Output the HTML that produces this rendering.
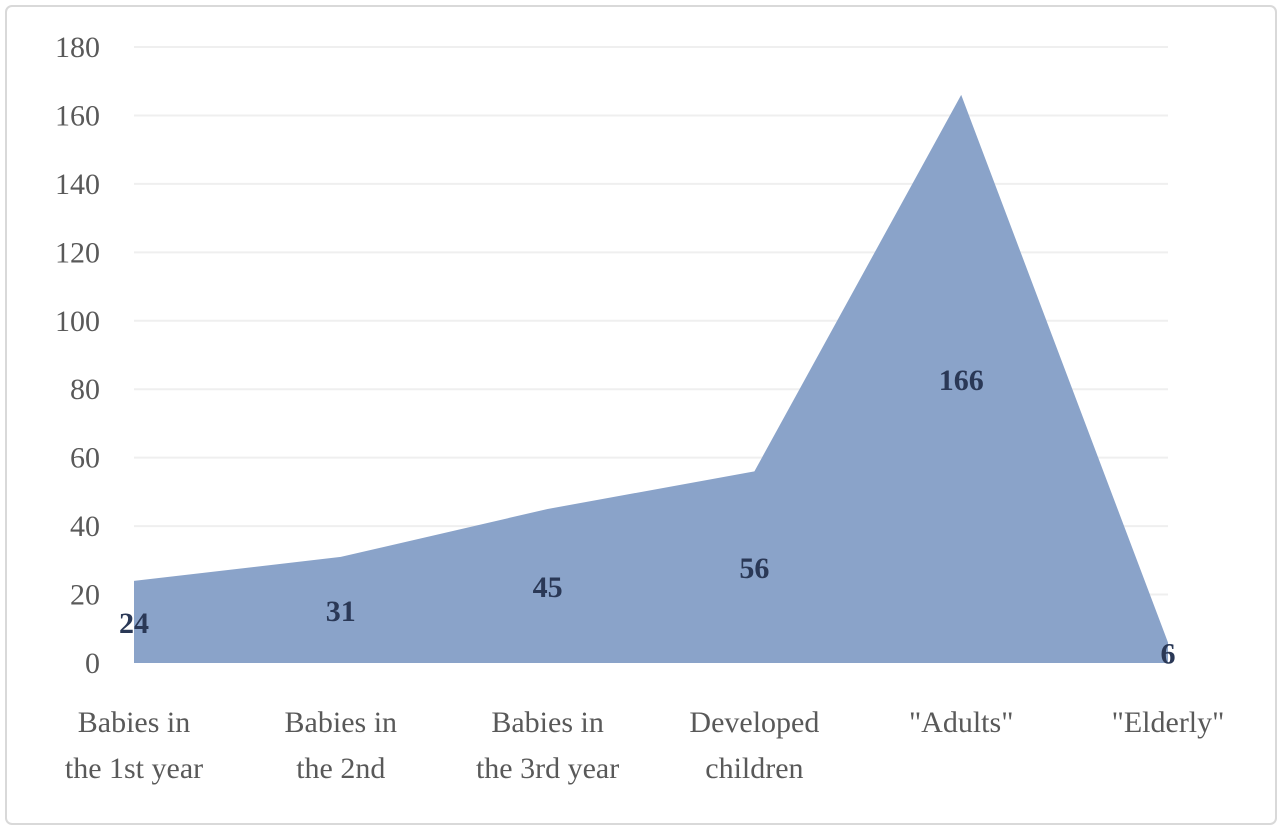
<!DOCTYPE html>
<html><head><meta charset="utf-8"><style>
html,body{margin:0;padding:0;background:#fff;}
svg{display:block;font-family:"Liberation Serif",serif;}
</style></head><body>
<svg id="chart" width="1283" height="831" viewBox="0 0 1283 831" xmlns="http://www.w3.org/2000/svg">
<rect x="6" y="6" width="1270" height="818" rx="6" fill="#fff" stroke="#d9d9d9" stroke-width="2"/>
<g id="grid"></g><g id="area"></g><g id="ylabels"></g><g id="xlabels"></g><g id="dlabels"></g>
</svg>
<script>
const categories=[["Babies in","the 1st year"],["Babies in","the 2nd"],["Babies in","the 3rd year"],["Developed","children"],["\"Adults\""],["\"Elderly\""]];
const values=[24,31,45,56,166,6];
const yTicks=[0,20,40,60,80,100,120,140,160,180];
const NS="http://www.w3.org/2000/svg";
const y0=663,yTop=47,yMax=180,xL=134,xR=1168;
const yS=v=>y0-(v/yMax)*(y0-yTop);
const xS=i=>xL+i*(xR-xL)/(categories.length-1);
function mk(t,a,p){const e=document.createElementNS(NS,t);for(const k in a)e.setAttribute(k,a[k]);document.getElementById(p).appendChild(e);return e;}
yTicks.forEach(t=>{
  if(t>0){const l=mk("line",{x1:xL,x2:xR,y1:yS(t),y2:yS(t),stroke:"#efefef","stroke-width":2},"grid");
  
  }
  const tx=mk("text",{x:100,y:yS(t)+10,"text-anchor":"end","font-size":30,fill:"#595959"},"ylabels");
  tx.textContent=t;
  
  
});
let d="M"+xS(0)+","+y0;
values.forEach((v,i)=>{d+=" L"+xS(i)+","+yS(v);});
d+=" L"+xS(values.length-1)+","+y0+" Z";
const p=mk("path",{d:d,fill:"#8aa3c9"},"area");


categories.forEach((c,i)=>{
  c.forEach((line,j)=>{
    const t=mk("text",{x:xS(i),y:732+j*46,"text-anchor":"middle","font-size":30,fill:"#595959"},"xlabels");
    t.textContent=line;
    
    
  });
});
values.forEach((v,i)=>{
  const t=mk("text",{x:xS(i),y:(y0+yS(v))/2+11,"text-anchor":"middle","font-size":30,"font-weight":"bold",fill:"#2a3856"},"dlabels");
  t.textContent=v;
  
  
});
</script>
</body></html>
